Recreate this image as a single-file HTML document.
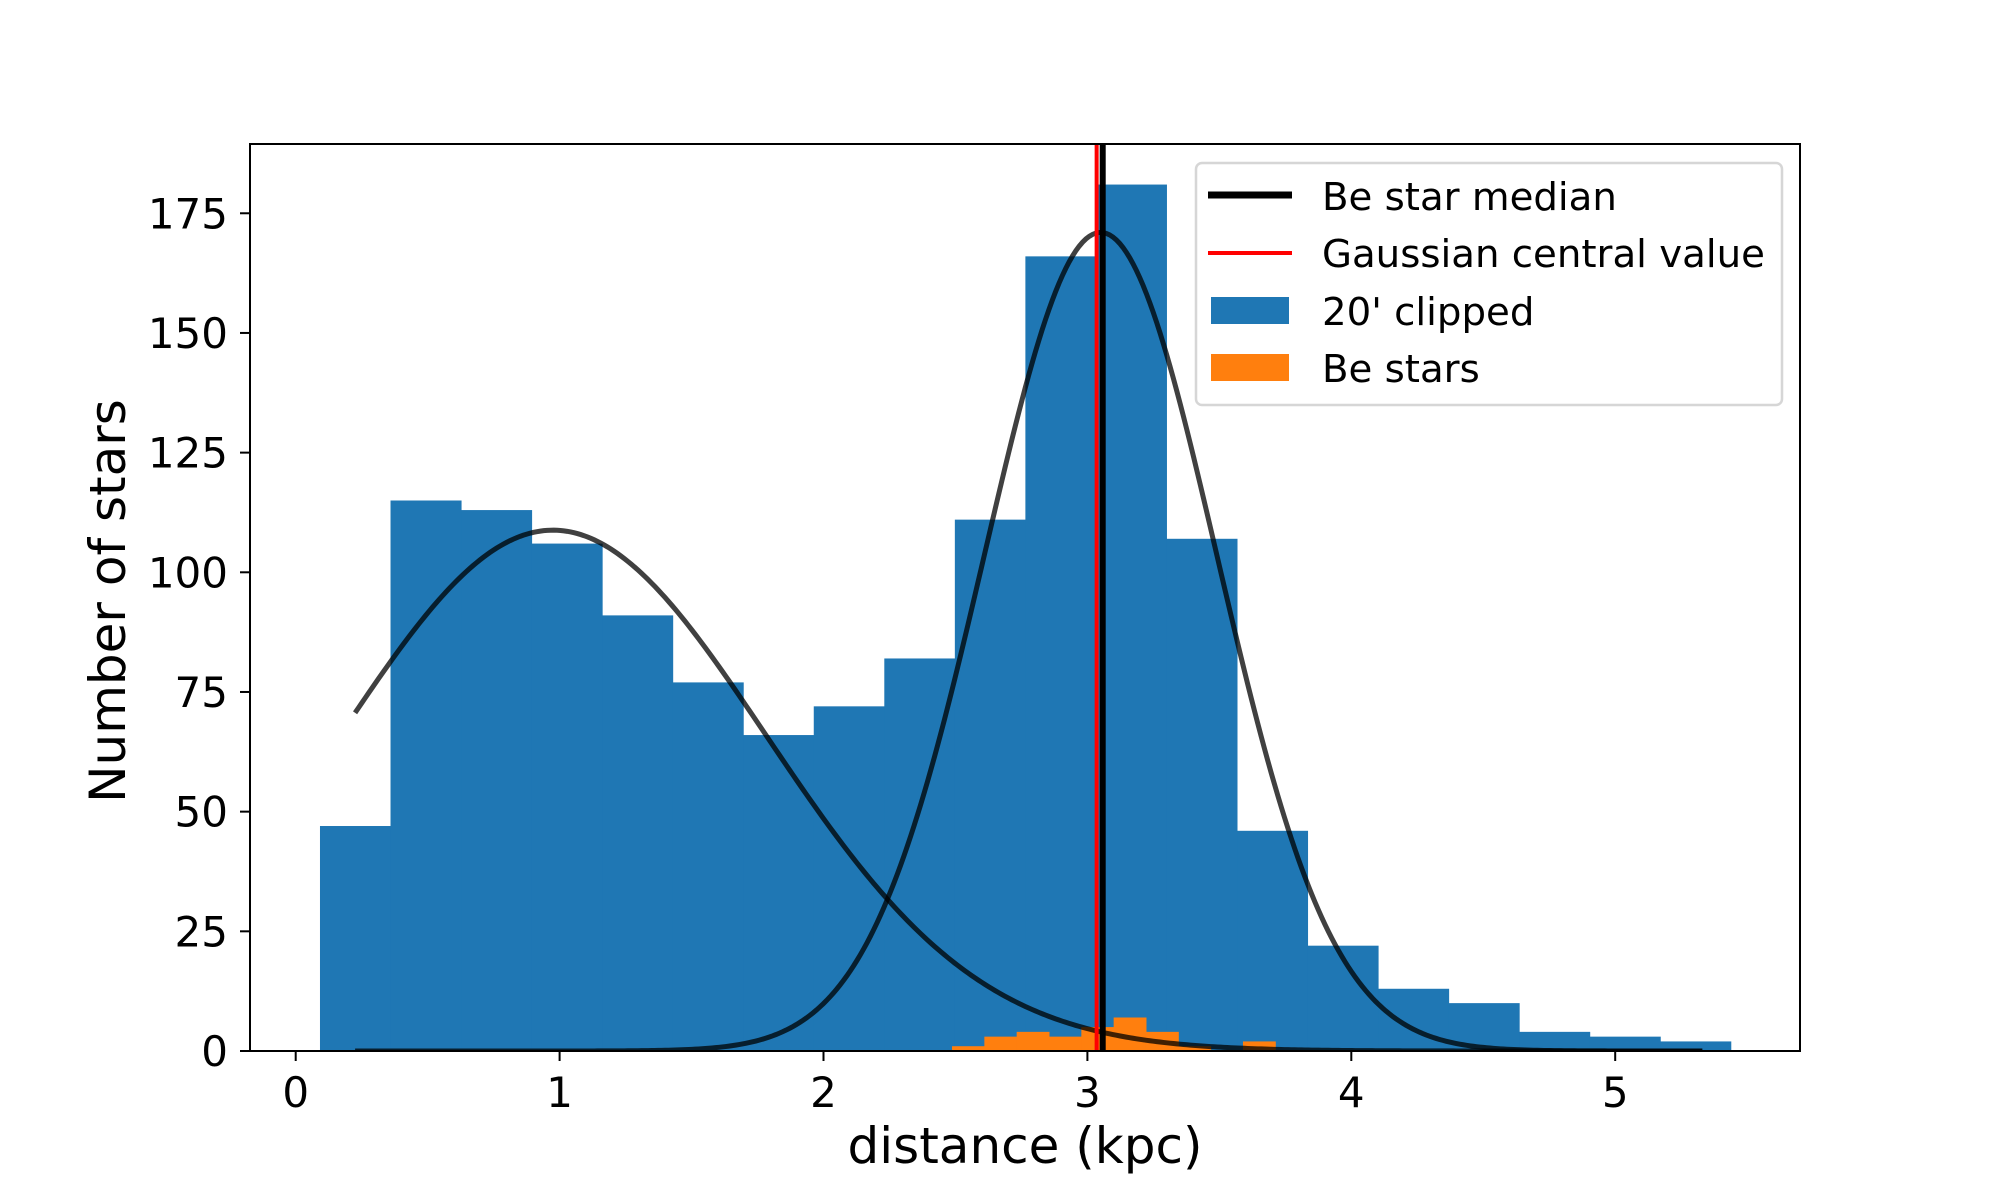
<!DOCTYPE html>
<html><head><meta charset="utf-8"><style>
html,body{margin:0;padding:0;background:#fff;}
svg{display:block;font-family:"DejaVu Sans","Liberation Sans",sans-serif;}
</style></head><body>
<svg id="chart" width="2000" height="1200" viewBox="0 0 2000 1200">
<rect x="0" y="0" width="2000" height="1200" fill="#fff"/>
<g id="plot"></g>
</svg>
<script>
const blueStart = 0.092, blueWidth = 0.2673;
const blueCounts = [47,115,113,106,91,77,66,72,82,111,166,181,107,46,22,13,10,4,3,2];
const orangeStart = 2.487, orangeWidth = 0.1225;
const orangeCounts = [1,3,4,3,5,7,4,1,0,2];
const gaussAmp = [108.8, 171];
const gaussMu = [0.975, 3.05];
const gaussSigma = [0.807, 0.44];
const curveRange = [0.225, 5.33];
const medianValue = 3.058;
const gaussCentral = 3.035;
const xTicks = [0,1,2,3,4,5];
const yTicks = [0,25,50,75,100,125,150,175];

const L=250,R=1800,T=144,B=1051;
const X0=295.7, XS=263.9, YS=4.787;
const sx = v => X0 + v*XS;
const sy = v => B - v*YS;
const NS="http://www.w3.org/2000/svg";
const g=document.getElementById('plot');
function mk(tag,attrs,parent){const e=document.createElementNS(NS,tag);for(const k in attrs)e.setAttribute(k,attrs[k]);(parent||g).appendChild(e);return e;}

const defs=mk('defs',{});const cp=mk('clipPath',{id:'clip'},defs);mk('rect',{x:L,y:T,width:R-L,height:B-T},cp);
const inner=mk('g',{'clip-path':'url(#clip)'});



blueCounts.forEach((c,i)=>{
  const x0=sx(blueStart+i*blueWidth), x1=sx(blueStart+(i+1)*blueWidth);
  const r=mk('rect',{x:x0,y:sy(c),width:x1-x0+0.5,height:B-sy(c),fill:'#1f77b4'},inner);
  
  
});
orangeCounts.forEach((c,i)=>{
  if(!c) return;
  const x0=sx(orangeStart+i*orangeWidth), x1=sx(orangeStart+(i+1)*orangeWidth);
  const r=mk('rect',{x:x0,y:sy(c),width:x1-x0+0.5,height:B-sy(c),fill:'#ff7f0e'},inner);
  
  
});
gaussAmp.forEach((a,k)=>{
  let d='';
  for(let i=0;i<=400;i++){
    const x=curveRange[0]+(curveRange[1]-curveRange[0])*i/400;
    const y=a*Math.exp(-Math.pow(x-gaussMu[k],2)/(2*gaussSigma[k]*gaussSigma[k]));
    d+=(i?'L':'M')+sx(x).toFixed(2)+','+sy(y).toFixed(2);
  }
  const p=mk('path',{d:d,fill:'none',stroke:'#000','stroke-opacity':0.75,'stroke-width':5},inner);
  
  
});
const rl=mk('line',{x1:sx(gaussCentral),x2:sx(gaussCentral),y1:T,y2:B,stroke:'#ff0000','stroke-width':4},inner);


const bl=mk('line',{x1:sx(medianValue),x2:sx(medianValue),y1:T,y2:B,stroke:'#000','stroke-width':6},inner);



const fr=mk('rect',{x:L,y:T,width:R-L,height:B-T,fill:'none',stroke:'#000','stroke-width':2});



xTicks.forEach(v=>{
  const t=mk('line',{x1:sx(v),x2:sx(v),y1:B,y2:B+10,stroke:'#000','stroke-width':2});
  
  
  const tx=mk('text',{x:sx(v),y:B+56,'text-anchor':'middle','font-size':42,fill:'#000'});
  tx.textContent=v;
  
  
});
yTicks.forEach(v=>{
  const t=mk('line',{x1:L-10,x2:L,y1:sy(v),y2:sy(v),stroke:'#000','stroke-width':2});
  
  
  const tx=mk('text',{x:L-22,y:sy(v)+15,'text-anchor':'end','font-size':42,fill:'#000'});
  tx.textContent=v;
  
  
});
const xl=mk('text',{x:(L+R)/2,y:1163,'text-anchor':'middle','font-size':50,fill:'#000'});
xl.textContent='distance (kpc)';


const yl=mk('text',{x:0,y:0,'text-anchor':'middle','font-size':50,fill:'#000',transform:'translate(125,601) rotate(-90)'});
yl.textContent='Number of stars';



const lg=mk('g',{});


mk('rect',{x:1196,y:163,width:586,height:242,rx:6,fill:'#fff','fill-opacity':0.8,stroke:'#d6d6d6','stroke-width':2.5},lg);
const items=[['line','#000',7,'Be star median',195,210],['line','#ff0000',4,'Gaussian central value',253,267],['patch','#1f77b4',0,"20' clipped",297,325],['patch','#ff7f0e',0,'Be stars',354,382]];
items.forEach(it=>{
  const e=mk('g',{},lg);
  
  
  if(it[0]==='line') mk('line',{x1:1208,x2:1292,y1:it[4],y2:it[4],stroke:it[1],'stroke-width':it[2]},e);
  else mk('rect',{x:1211,y:it[4],width:78,height:27,fill:it[1]},e);
  const t=mk('text',{x:1322,y:it[5],'font-size':38.7,fill:'#000'},e);
  t.textContent=it[3];
});
</script>
</body></html>
